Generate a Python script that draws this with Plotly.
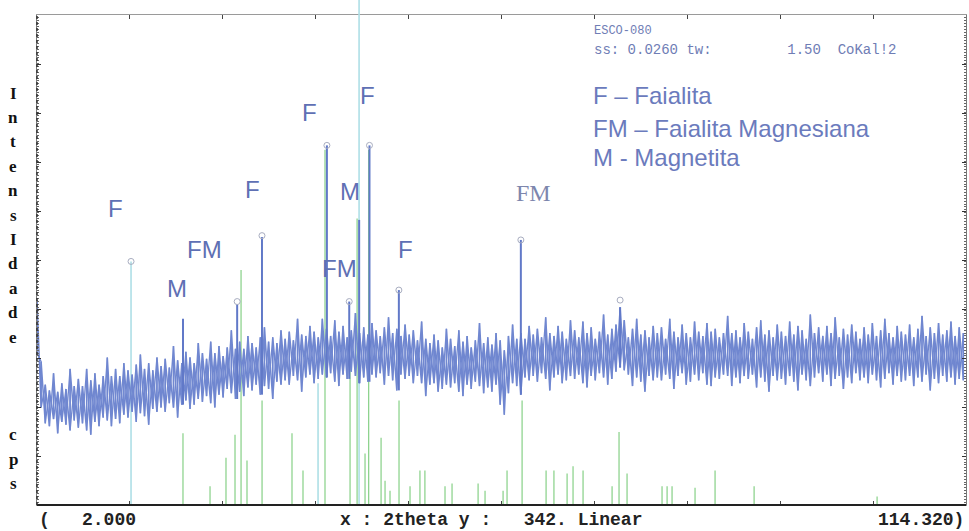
import plotly.graph_objects as go

# ---- measured scan: 2theta grid (deg) with upper / lower noise envelope (cps) ----
scan_start = 2.0
scan_step = 0.5
scan_hi = [
    143, 100, 84, 80, 92, 79, 85, 81, 95, 83,
    88, 83, 95, 87, 92, 84, 90, 103, 90, 95,
    90, 99, 94, 91, 98, 105, 95, 99, 94, 103,
    97, 102, 96, 111, 101, 99, 107, 103, 99, 113,
    106, 102, 114, 106, 111, 104, 110, 122, 109, 114,
    109, 118, 113, 110, 117, 124, 114, 117, 113, 122,
    116, 121, 115, 130, 119, 118, 125, 121, 117, 130,
    123, 118, 129, 121, 125, 117, 122, 134, 120, 124,
    119, 127, 122, 118, 124, 131, 120, 123, 118, 126,
    119, 122, 115, 128, 116, 113, 119, 115, 110, 123,
    116, 111, 122, 114, 118, 110, 115, 127, 113, 117,
    112, 120, 115, 108, 118, 126, 116, 120, 116, 125,
    119, 123, 117, 131, 120, 118, 125, 121, 116, 129,
    122, 117, 128, 120, 124, 116, 121, 133, 119, 123,
    126, 138, 129, 117, 123, 130, 119, 122, 117, 125,
    120, 124, 116, 130, 121, 117, 126, 120, 117, 128,
    121, 118, 127, 121, 123, 117, 120, 132, 120, 122,
    117, 127, 121, 116, 124, 129, 119, 122, 117, 126,
    121, 118, 128, 119, 125, 122, 116, 133, 120, 124,
    118, 125, 120, 131, 117, 123, 119, 126, 121, 116,
    124, 119, 127, 118, 122, 130, 120, 117, 125, 121,
    119, 126, 117, 123, 132, 118, 124, 120, 127, 119,
    122, 128, 118, 124, 120,
]
scan_lo = [
    106, 68, 57, 55, 60, 50, 58, 56, 52, 59,
    54, 57, 52, 49, 58, 55, 61, 59, 55, 60,
    57, 63, 61, 65, 58, 64, 62, 56, 67, 65,
    68, 65, 71, 68, 61, 70, 73, 67, 70, 74,
    72, 76, 71, 68, 77, 75, 81, 78, 74, 79,
    76, 82, 80, 84, 77, 83, 81, 74, 86, 84,
    87, 84, 90, 87, 79, 89, 91, 85, 88, 91,
    89, 92, 86, 83, 91, 88, 93, 90, 85, 89,
    86, 91, 89, 92, 84, 90, 87, 80, 91, 88,
    90, 85, 90, 85, 76, 84, 85, 79, 81, 84,
    82, 85, 79, 76, 84, 81, 86, 83, 78, 82,
    79, 84, 70, 63, 78, 85, 83, 77, 89, 87,
    90, 86, 92, 88, 80, 89, 91, 85, 87, 90,
    88, 91, 85, 82, 90, 87, 92, 89, 84, 88,
    93, 96, 94, 91, 83, 89, 86, 79, 90, 87,
    89, 87, 91, 88, 81, 90, 92, 84, 86, 91,
    87, 92, 84, 83, 89, 88, 91, 90, 83, 89,
    85, 90, 88, 91, 82, 89, 86, 79, 90, 87,
    88, 84, 90, 86, 80, 91, 87, 83, 89, 92,
    86, 91, 83, 88, 90, 81, 89, 85, 92, 87,
    89, 85, 91, 87, 82, 88, 92, 84, 90, 86,
    87, 90, 83, 89, 86, 91, 80, 88, 85, 90,
    86, 89, 84, 88, 87,
]
scan_2theta = [scan_start + i * scan_step for i in range(len(scan_hi))]

# ---- reflections rising out of the background ----
peak_2theta = [19.65, 26.2, 29.2, 37.05, 39.75, 40.95, 42.2, 45.75, 60.5, 72.5]
peak_cps = [130, 140, 187, 251, 142, 199, 251, 150, 185, 138]

# ---- peak-search markers ----
marker_2theta = [13.37, 26.2, 29.2, 37.05, 39.75, 42.2, 45.75, 60.5, 72.5]
marker_cps = [170, 142, 188, 251, 142, 251, 150, 185, 143]

# ---- reference pattern sticks ----
green_2theta = [19.65, 22.92, 24.85, 25.94, 26.67, 27.39, 29.21, 32.83, 34.16,
                36.82, 39.85, 40.7, 41.66, 42.1, 43.6, 44.08, 44.68, 45.77,
                47.1, 48.3, 48.9, 51.33, 52.18, 55.33, 56.17, 58.35, 58.83,
                60.65, 63.55, 64.5, 66.09, 66.81, 68.02, 71.53, 72.37, 73.34,
                77.57, 78.18, 78.78, 81.56, 83.98, 88.7, 103.57]
green_cps = [50, 13, 33, 49, 164, 31, 73, 50, 24,
             248, 96, 200, 36, 248, 47, 17, 10, 73,
             13, 24, 24, 13, 15, 15, 10, 10, 24,
             73, 24, 24, 22, 27, 24, 13, 51, 22,
             13, 13, 13, 12, 24, 13, 6]
cyan_2theta = [13.37, 35.98, 40.94]
cyan_cps = [170, 85, 342]

# ---- phase labels ----
label_text = ["F", "M", "FM", "F", "F", "F", "M", "FM", "F"]
label_2theta = [11.43, 18.93, 22.3, 28.0, 34.9, 42.0, 39.85, 38.6, 46.5]
label_cps = [207, 151, 178, 220, 274, 286, 219, 165, 178]
legend_lines = ["F \u2013 Faialita", "FM \u2013 Faialita Magnesiana", "M - Magnetita"]

x_min, x_max = 2.0, 114.32
y_max = 342

BLUE = "#7087d0"
LABEL = "#5f70b4"

fig = go.Figure()


def sticks(xs, bases, tops):
    px, py = [], []
    for t, b, h in zip(xs, bases, tops):
        px += [t, t, None]
        py += [b, h, None]
    return px, py


gx, gy = sticks(green_2theta, [0] * len(green_2theta), green_cps)
fig.add_trace(go.Scatter(x=gx, y=gy, mode="lines",
                         line=dict(color="#86d086", width=1.2), hoverinfo="skip"))
cx, cy = sticks(cyan_2theta, [0] * len(cyan_2theta), cyan_cps)
fig.add_trace(go.Scatter(x=cx, y=cy, mode="lines",
                         line=dict(color="#aedfe6", width=1.6), hoverinfo="skip"))

# noisy scan: a vertical stroke per grid step between its envelope values,
# joined to the next step by a diagonal; drawn in both senses so the core closes up
sx, sy, rx, ry = [], [], [], []
for t, h, l in zip(scan_2theta, scan_hi, scan_lo):
    sx += [t, t]
    sy += [l, h]
    rx += [t, t]
    ry += [h, l]
fig.add_trace(go.Scatter(x=sx, y=sy, mode="lines",
                         line=dict(color=BLUE, width=1.5), hoverinfo="skip"))
fig.add_trace(go.Scatter(x=rx, y=ry, mode="lines",
                         line=dict(color=BLUE, width=1.3), hoverinfo="skip"))

# reflections: strokes from the local background up to the peak intensity
peak_base = [scan_lo[min(range(len(scan_2theta)), key=lambda i: abs(scan_2theta[i] - p))]
             for p in peak_2theta]
px_, py_ = sticks(peak_2theta, peak_base, peak_cps)
fig.add_trace(go.Scatter(x=px_, y=py_, mode="lines",
                         line=dict(color="#6179c8", width=2), hoverinfo="skip"))

fig.add_trace(go.Scatter(x=marker_2theta, y=marker_cps, mode="markers",
                         marker=dict(symbol="circle-open", size=6,
                                     color="#a8adc0", line=dict(width=1)),
                         hoverinfo="skip"))

annotations = []
for txt, t, c in zip(label_text, label_2theta, label_cps):
    annotations.append(dict(x=t, y=c, xref="x", yref="y", text=txt, showarrow=False,
                            font=dict(family="Liberation Sans, Arial", size=24, color=LABEL)))
annotations.append(dict(x=62.0, y=218, xref="x", yref="y", text="FM", showarrow=False,
                        font=dict(family="Liberation Serif, Times New Roman", size=24,
                                  color="#7d86ad")))

# legend block
legend_y = [96, 128, 157]
for line, ypx in zip(legend_lines, legend_y):
    annotations.append(dict(x=(591 - 37) / 929, y=(505 - ypx) / 490,
                            xref="paper", yref="paper", text=line, showarrow=False,
                            xanchor="left", yanchor="middle",
                            font=dict(family="Liberation Sans, Arial", size=24,
                                      color="#6b7bbd")))

# instrument header
header = [("ESCO-080", 31, 12), ("ss: 0.0260 tw:" + " " * 9 + "1.50  CoKal!2", 50, 14)]
for line, ypx, size in header:
    annotations.append(dict(x=(592 - 37) / 929, y=(505 - ypx) / 490,
                            xref="paper", yref="paper", text=line, showarrow=False,
                            xanchor="left", yanchor="middle",
                            font=dict(family="Liberation Mono, DejaVu Sans Mono",
                                      size=size, color="#6f7db5")))

# vertical axis title, one letter per row
title_letters = list("IntensIdade") + ["", "", ""] + list("cps")
for k, ch in enumerate(title_letters):
    if not ch:
        continue
    annotations.append(dict(x=(13 - 37) / 929, y=(505 - 93 - 24.4 * k) / 490,
                            xref="paper", yref="paper", text="<b>" + ch + "</b>",
                            showarrow=False, xanchor="center", yanchor="middle",
                            font=dict(family="Liberation Serif, Times New Roman",
                                      size=17, color="#111")))

# scan range footer
foot_font = dict(family="Liberation Mono, DejaVu Sans Mono", size=18, color="#222")
foot_y = (505 - 520) / 490
annotations.append(dict(x=0, y=foot_y, xref="paper", yref="paper", text="<b>(</b>",
                        showarrow=False, xanchor="left", yanchor="middle", font=foot_font))
annotations.append(dict(x=(80 - 37) / 929, y=foot_y, xref="paper", yref="paper",
                        text=f"<b>{x_min:.3f}</b>", showarrow=False,
                        xanchor="left", yanchor="middle", font=foot_font))
annotations.append(dict(x=(338 - 37) / 929, y=foot_y, xref="paper", yref="paper",
                        text=f"<b>x : 2theta y :   {y_max}. Linear</b>", showarrow=False,
                        xanchor="left", yanchor="middle", font=foot_font))
annotations.append(dict(x=1, y=foot_y, xref="paper", yref="paper",
                        text=f"<b>{x_max:.3f})</b>", showarrow=False,
                        xanchor="right", yanchor="middle", font=foot_font))

x_ticks = [x_min + k * (x_max - x_min) / 10 for k in range(11)]
y_ticks = [k * y_max / 10 for k in range(11)]

fig.update_layout(
    width=969, height=531,
    margin=dict(l=37, r=3, t=15, b=26),
    paper_bgcolor="white", plot_bgcolor="white",
    showlegend=False,
    annotations=annotations,
    xaxis=dict(range=[x_min, x_max], showgrid=False, zeroline=False,
               showline=True, linecolor="#9a9a9a", linewidth=1, mirror="ticks",
               ticks="inside", ticklen=4, tickcolor="#444", tickvals=x_ticks,
               showticklabels=False),
    yaxis=dict(range=[0, y_max], showgrid=False, zeroline=False,
               showline=True, linecolor="#777", linewidth=1, mirror="ticks",
               ticks="inside", ticklen=4, tickcolor="#333", tickvals=y_ticks,
               showticklabels=False,
               minor=dict(ticks="inside", ticklen=2, tickcolor="#666", nticks=50)),
    shapes=[
        dict(type="line", xref="paper", yref="paper", x0=0, x1=1, y0=0, y1=0,
             line=dict(color="#222", width=2)),
        dict(type="line", xref="paper", yref="paper", x0=0, x1=0, y0=0, y1=1,
             line=dict(color="#333", width=1.5, dash="dot")),
        # the full-scale reference line continues past the top of the frame
        dict(type="line", xref="x", yref="paper", x0=cyan_2theta[2], x1=cyan_2theta[2],
             y0=1, y1=1 + 15 / 490, line=dict(color="#aedfe6", width=1.6)),
    ],
)

fig.write_html("out.html")
